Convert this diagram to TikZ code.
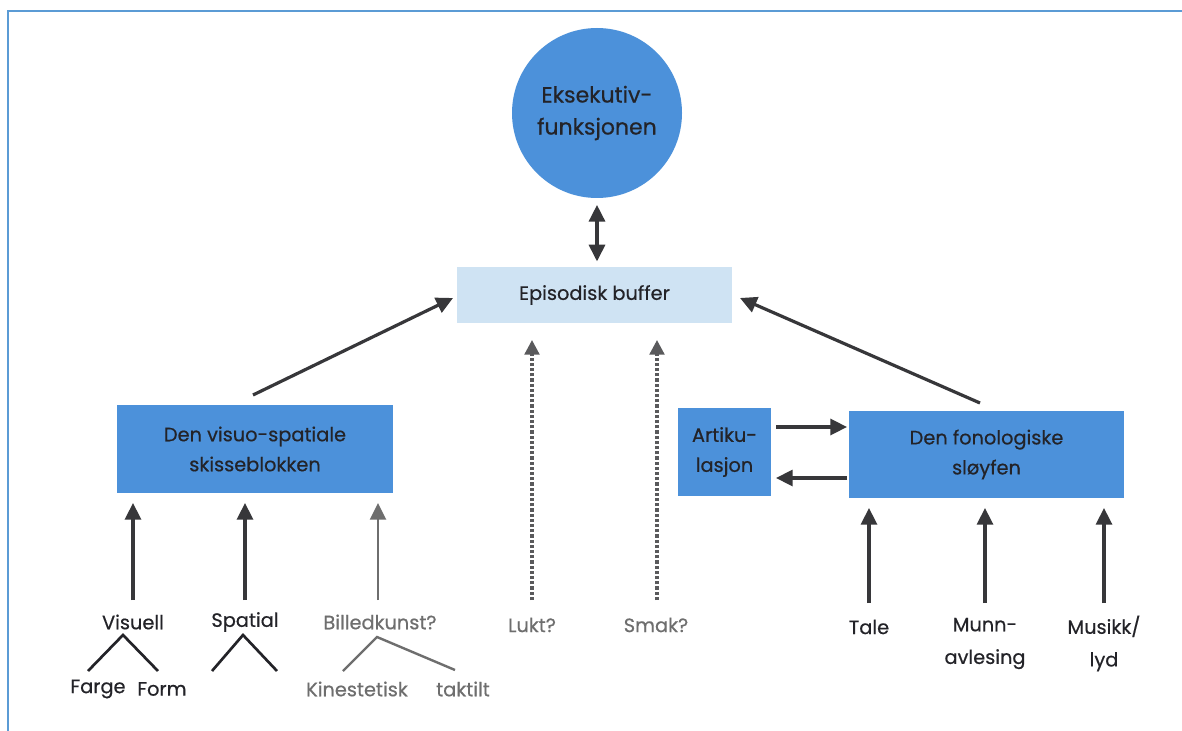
\documentclass[tikz,border=0pt]{standalone}
\usepackage{fontspec}
\setmainfont{Poppins}[FakeBold=0.5]
\usetikzlibrary{arrows.meta}
\definecolor{frameblue}{RGB}{91,155,213}
\definecolor{boxblue}{RGB}{76,145,218}
\definecolor{lightbox}{RGB}{207,227,243}
\definecolor{ink}{RGB}{35,35,40}
\definecolor{greyink}{RGB}{110,110,110}
\definecolor{dashc}{RGB}{90,90,92}
\definecolor{arrowc}{RGB}{55,55,58}
\tikzset{
  bluebox/.style={fill=boxblue, draw=none, inner sep=0pt, align=center, text=ink, font=\fontsize{14.5}{22.5}\selectfont},
  lbl/.style={text=ink, align=center, inner sep=1pt, font=\fontsize{14.5}{24.5}\selectfont},
  glbl/.style={lbl, text=greyink},
  arr/.style={draw=arrowc, line width=2.4pt, -{Triangle[length=12.5pt,width=12pt]}},
  dblarr/.style={arr, {Triangle[length=12.5pt,width=12pt]}-{Triangle[length=12.5pt,width=12pt]}},
  garr/.style={draw=greyink, line width=1.8pt, -{Triangle[length=12.5pt,width=12pt]}},
  darr/.style={draw=dashc, line width=2.4pt, dash pattern=on 2.4pt off 1.5pt, -{Triangle[length=11pt,width=11pt]}},
  branch/.style={draw=ink, line width=2pt},
  gbranch/.style={draw=greyink, line width=1.8pt},
}
\begin{document}
\begin{tikzpicture}[x=0.75pt,y=-0.75pt]
\useasboundingbox (0,0) rectangle (1182,731);
\fill[white] (0,0) rectangle (1182,731);
% frame
\draw[frameblue, line width=1.8pt] (8,731) -- (8,11) -- (1182,11);

% nodes
\node[circle, fill=boxblue, minimum size=127.5pt, inner sep=0pt, align=center, text=ink,
      font=\fontsize{16.5}{24}\selectfont] (exec) at (597,113) {Eksekutiv-\\funksjonen};
\node[fill=lightbox, minimum width=206pt, minimum height=42pt, inner sep=0pt, text=ink,
      font=\fontsize{14.5}{22.5}\selectfont] (buf) at (594.5,295) {Episodisk buffer};
\node[bluebox, minimum width=207pt, minimum height=66pt] (vs) at (255,449) {Den visuo-spatiale\\skisseblokken};
\node[bluebox, minimum width=70pt, minimum height=66pt] (art) at (724.5,452) {Artiku-\\lasjon};
\node[bluebox, minimum width=206pt, minimum height=65pt] (fon) at (986.5,454.5) {Den fonologiske\\sløyfen};

% exec <-> buffer
\draw[dblarr, shorten <=5pt, shorten >=4pt] (exec.south) -- (exec.south |- buf.north);

% diagonal arrows into buffer
\coordinate (vsTop) at (253,395);
\coordinate (fonTop) at (980,403);
\coordinate (bufW) at (453,298);
\coordinate (bufE) at (740,298);
\draw[arr] (vsTop) -- (bufW);
\draw[arr] (fonTop) -- (bufE);

% left labels
\node[lbl] (visuell) at (133,622) {Visuell};
\node[lbl] (spatial) at (245,622) {Spatial};
\node[glbl] (bild) at (380,622) {Billedkunst?};
\node[lbl] (farge) at (98,689) {Farge};
\node[lbl] (form) at (162,689) {Form};
\node[glbl] (kin) at (357,689) {Kinestetisk};
\node[glbl] (takt) at (463,689) {taktilt};

\coordinate (v0) at (133,600); \coordinate (v1) at (133,503);
\coordinate (s0) at (245,600); \coordinate (s1) at (245,503);
\coordinate (b0) at (378,600); \coordinate (b1) at (378,503);
\draw[arr] (v0) -- (v1);
\draw[arr] (s0) -- (s1);
\draw[garr] (b0) -- (b1);

% branches
\coordinate (va) at (123,635);
\coordinate (sa) at (243,635);
\coordinate (ba) at (377,637);
\draw[branch] (88,671) -- (va) -- (158,671);
\draw[branch] (212,671) -- (sa) -- (277,671);
\draw[gbranch] (343,671) -- (ba) -- (455,670);

% smell/taste
\node[glbl] (lukt) at (532,625) {Lukt?};
\node[glbl] (smak) at (656,625) {Smak?};
\coordinate (l0) at (532,600); \coordinate (l1) at (532,340);
\coordinate (k0) at (657,600); \coordinate (k1) at (657,340);
\draw[darr] (l0) -- (l1);
\draw[darr] (k0) -- (k1);

% articulation loop
\coordinate (a0) at (776,427); \coordinate (a1) at (847,427);
\coordinate (a2) at (847,478); \coordinate (a3) at (776,478);
\draw[arr] (a0) -- (a1);
\draw[arr] (a2) -- (a3);

% right labels
\node[lbl] (tale) at (869,627) {Tale};
\node[lbl] (munn) at (985,643.5) {Munn-\\avlesing};
\node[lbl] (mus) at (1104,643.5) {Musikk/\\lyd};
\coordinate (t0) at (869,603); \coordinate (t1) at (869,508);
\coordinate (m0) at (985,603); \coordinate (m1) at (985,508);
\coordinate (u0) at (1104,603); \coordinate (u1) at (1104,508);
\draw[arr] (t0) -- (t1);
\draw[arr] (m0) -- (m1);
\draw[arr] (u0) -- (u1);
\end{tikzpicture}
\end{document}
